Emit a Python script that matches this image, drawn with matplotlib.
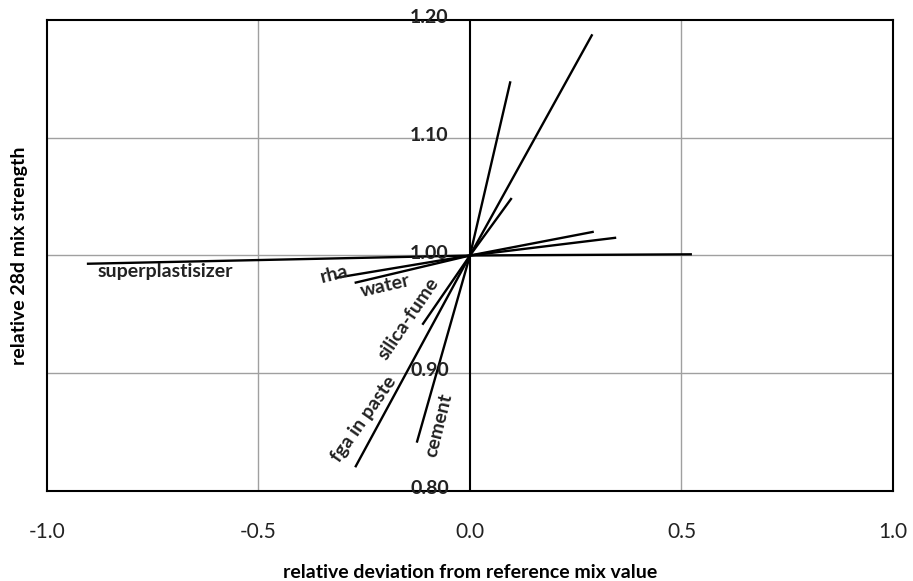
import matplotlib.pyplot as plt

plt.rcParams['font.family'] = ['Lato', 'DejaVu Sans']

# each parameter: low end, reference point, high end
params = ["fga in paste", "cement", "silica-fume", "water", "rha", "superplastisizer"]
dev_x = [
    [-0.27, 0.0, 0.288],
    [-0.125, 0.0, 0.095],
    [-0.111, 0.0, 0.097],
    [-0.27, 0.0, 0.29],
    [-0.317, 0.0, 0.343],
    [-0.903, 0.0, 0.522],
]
strength = [
    [0.821, 1.0, 1.187],
    [0.842, 1.0, 1.147],
    [0.942, 1.0, 1.048],
    [0.977, 1.0, 1.020],
    [0.981, 1.0, 1.015],
    [0.993, 1.0, 1.001],
]

xticks = [-1.0, -0.5, 0.0, 0.5, 1.0]
yticks = [0.80, 0.90, 1.00, 1.10, 1.20]

fig = plt.figure(figsize=(9.13, 5.81), dpi=100)
ax = fig.add_axes([0.0515, 0.155, 0.9265, 0.8105])

for v in [-0.5, 0.5]:
    ax.axvline(v, color='#a0a0a0', lw=1, zorder=1)
for v in [0.9, 1.0, 1.1]:
    ax.axhline(v, color='#a0a0a0', lw=1, zorder=1)
ax.axvline(0, color='black', lw=1.5, zorder=2)

for xs, ys in zip(dev_x, strength):
    ax.plot(xs, ys, color='black', lw=1.7, zorder=3)

ax.set_xlim(-1, 1)
ax.set_ylim(0.8, 1.2)
ax.set_xticks(xticks)
ax.set_xticklabels([f"{t:.1f}" for t in xticks], fontsize=15, color='#222222')
ax.tick_params(axis='x', length=0, pad=22)
ax.set_yticks([])
for s in ax.spines.values():
    s.set_linewidth(1.5)

for t in yticks:
    ax.text(-0.05, t + 0.002, f"{t:.2f}", ha='right', va='center', fontsize=14,
            fontweight='bold', color='#222222', zorder=4, clip_on=False)

lab = dict(fontsize=14, fontweight='bold', color='#222222', zorder=5)
ax.text(-0.72, 0.986, "superplastisizer", ha='center', va='center', **lab)
ax.text(-0.32, 0.984, "rha", ha='center', va='center', rotation=14, **lab)
ax.text(-0.2, 0.974, "water", ha='center', va='center', rotation=13, **lab)
ax.text(-0.145, 0.946, "silica-fume", ha='center', va='center', rotation=56, **lab)
ax.text(-0.25, 0.861, "fga in paste", ha='center', va='center', rotation=55, **lab)
ax.text(-0.073, 0.856, "cement", ha='center', va='center', rotation=76, **lab)

ax.set_xlabel("relative deviation from reference mix value", fontsize=14,
              fontweight='bold', labelpad=16)
ax.set_ylabel("relative 28d mix strength", fontsize=14, fontweight='bold', labelpad=14)

fig.savefig("out.png", dpi=100)
